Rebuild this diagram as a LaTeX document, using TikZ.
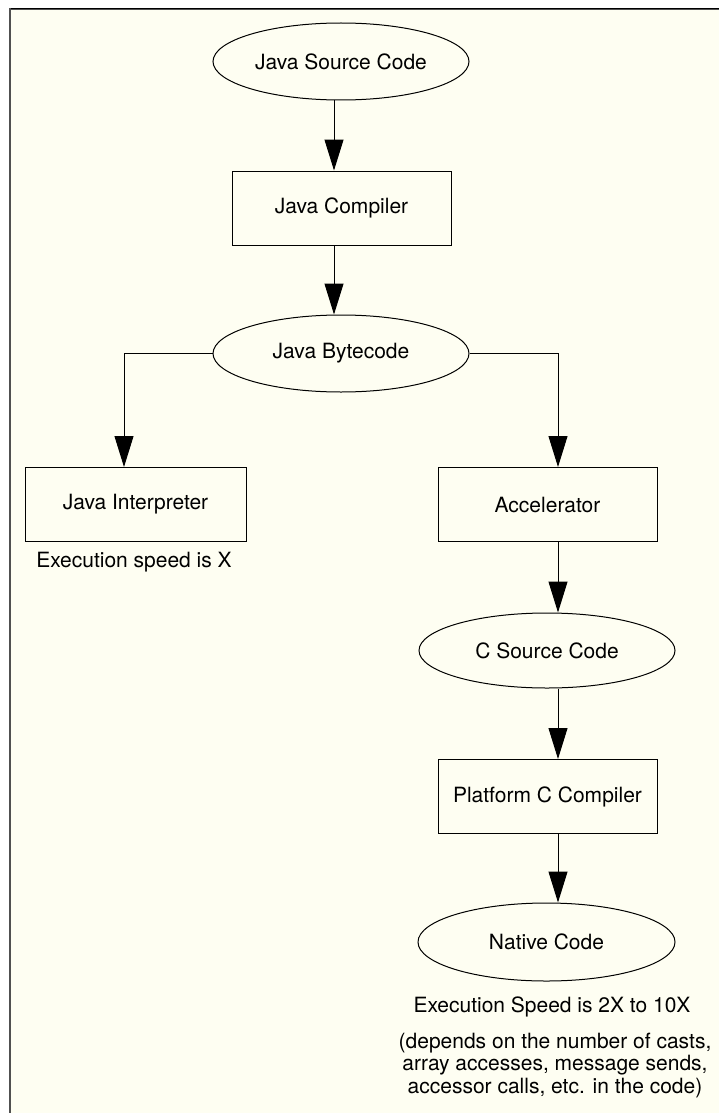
\documentclass[tikz,border=0pt]{standalone}
\usepackage{fontspec}
\setmainfont{TeX Gyre Heros}
\usetikzlibrary{shapes.geometric,arrows.meta}
\definecolor{cream}{RGB}{254,254,242}
\definecolor{framegray}{RGB}{80,80,80}
\begin{document}
\begin{tikzpicture}[x=1pt,y=-1pt,
  every node/.style={font=\fontsize{21}{22.5}\selectfont, inner sep=0pt},
  oval/.style={draw, line width=1pt, ellipse, minimum width=256pt, minimum height=77pt},
  boxnode/.style={draw, line width=1pt, rectangle, minimum width=219pt, minimum height=74pt},
  arr/.style={line width=1pt, -{Triangle[length=31pt,width=19pt]}},
  note/.style={align=center}
]
\useasboundingbox (0,0) rectangle (719,1113);
\fill[white] (0,0) rectangle (719,1113);
\fill[cream] (10,9) rectangle (719,1113);
\draw[framegray, line width=1.2pt] (9,9.6) -- (719,9.6);
\draw[black, line width=1.2pt] (9,8.4) -- (719,8.4);
\draw[framegray, line width=2.2pt] (10,8) -- (10,1113);

\coordinate (cx) at (334,0);
\coordinate (cl) at (124,0);
\coordinate (cr) at (558,0);

\node[oval] (jsc) at (341,61.5) {Java Source Code};
\node[boxnode] (jc) at (341.5,208) {Java Compiler};
\node[oval] (jb) at (341,353.5) {Java Bytecode};
\node[boxnode, minimum width=221pt] (ji) at (135.5,504.5) {Java Interpreter};
\node[note] (sx) at (134,562) {Execution speed is X};
\node[boxnode] (acc) at (547.5,504.5) {Accelerator};
\node[oval, minimum height=75pt] (csc) at (547,650.5) {C Source Code};
\node[boxnode] (pcc) at (547.5,796.5) {Platform C Compiler};
\node[oval, minimum width=257pt, minimum height=78pt] (nc) at (546.5,942) {Native Code};
\node[note] (s2) at (552,1007) {Execution Speed is 2X to 10X};
\node[note] (s3) at (555,1065.5) {(depends on the number of casts,\\array accesses, message sends,\\accessor calls, etc. in the code)};

\draw[arr] (jsc.south -| cx) -- (jc.north -| cx);
\draw[arr] (jc.south -| cx) -- (jb.north -| cx);
\draw[arr] (jb.west) -| (cl |- ji.north);
\draw[arr] (jb.east) -| (cr |- acc.north);
\draw[arr] (acc.south -| cr) -- (csc.north -| cr);
\draw[arr] (csc.south -| cr) -- (pcc.north -| cr);
\draw[arr] (pcc.south -| cr) -- (nc.north -| cr);
\end{tikzpicture}
\end{document}
